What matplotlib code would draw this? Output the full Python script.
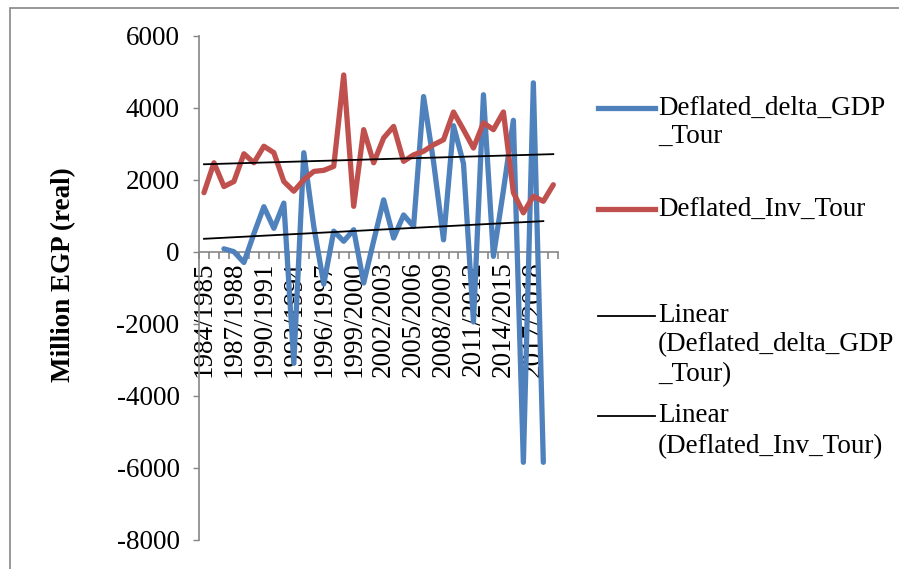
import numpy as np
import matplotlib
matplotlib.use('Agg')
import matplotlib.pyplot as plt
from matplotlib.lines import Line2D
from matplotlib.patches import Rectangle

plt.rcParams['font.family'] = ['Liberation Serif', 'DejaVu Serif']
plt.rcParams['axes.unicode_minus'] = False

nan = np.nan
# real values, million EGP, one per fiscal year 1984/1985 .. 2019/2020
delta_gdp = [nan, nan, 80, 0, -300, 500, 1250, 650, 1350, -3100,
             2750, 700, -900, 570, 290, 610, -870, 300, 1440, 380,
             1020, 700, 4310, 2500, 330, 3500, 2450, -1950, 4360, -130,
             1700, 3650, -5850, 4690, -5850, nan]
inv_tour = [1640, 2470, 1810, 1950, 2720, 2470, 2930, 2750, 1950, 1680,
            2000, 2230, 2260, 2370, 4910, 1260, 3390, 2470, 3160, 3480,
            2510, 2690, 2790, 2970, 3110, 3880, 3390, 2880, 3580, 3390,
            3880, 1640, 1080, 1540, 1400, 1860]
year_labels = ['1984/1985', '1987/1988', '1990/1991', '1993/1994',
               '1996/1997', '1999/2000', '2002/2003', '2005/2006',
               '2008/2009', '2011/2012', '2014/2015', '2017/2018']

blue = '#4F81BD'
red = '#C0504D'
grey = '#868686'
fs = 19.5

x = np.arange(len(inv_tour))
gdp = np.array(delta_gdp, dtype=float)
inv = np.array(inv_tour, dtype=float)

fig = plt.figure(figsize=(8.99, 5.69), dpi=100)
ax = fig.add_axes([199 / 899, 1 - 539.7 / 569, 359.3 / 899, 504 / 569])

ax.plot(x, gdp, color=blue, lw=3.8, solid_joinstyle='round',
        solid_capstyle='round', zorder=3)
ax.plot(x, inv, color=red, lw=3.8, solid_joinstyle='round',
        solid_capstyle='round', zorder=3)

# linear trends (leading empty years count as zero in the fit)
last = np.where(~np.isnan(gdp))[0][-1]
xg = x[:last + 1]
k1, b1 = np.polyfit(xg, np.nan_to_num(gdp[:last + 1]), 1)
xt1 = np.array([0, last])
ax.plot(xt1, k1 * xt1 + b1, color='black', lw=1.3, zorder=4)
k2, b2 = np.polyfit(x, inv, 1)
xt2 = np.array([0, x[-1]])
ax.plot(xt2, k2 * xt2 + b2, color='black', lw=1.3, zorder=4)

ax.set_xlim(-0.5, len(inv_tour) - 0.5)
ax.set_ylim(-8000, 6000)
ax.set_yticks(np.arange(-8000, 6001, 2000))
ax.tick_params(axis='y', labelsize=fs, length=4, width=1, color=grey,
               direction='out', pad=10)

for s in ['top', 'right']:
    ax.spines[s].set_visible(False)
ax.spines['left'].set_color(grey)
ax.spines['bottom'].set_color(grey)
ax.spines['bottom'].set_position(('data', 0))
ax.spines['left'].set_linewidth(1.2)
ax.spines['bottom'].set_linewidth(1.2)

ax.set_xticks(np.arange(-0.5, len(inv_tour), 1.0))
ax.set_xticklabels([])
ax.tick_params(axis='x', which='major', length=5, width=1.2, color=grey,
               direction='out')
ax.set_xticks(np.arange(0, len(inv_tour), 3), minor=True)
ax.set_xticklabels(year_labels, minor=True, rotation=90, fontsize=fs)
ax.tick_params(axis='x', which='minor', length=0, pad=7)
ax.patch.set_alpha(0)

fig.text(64 / 899, 1 - 275 / 569, 'Million EGP (real)', rotation=90,
         fontsize=fs, fontweight='bold', ha='center', va='center')

# legend drawn by hand
def legend_row(y_px, color, lw, lines):
    y0 = 1 - y_px / 569
    fig.add_artist(Line2D([598 / 899, 655 / 899], [y0, y0], color=color,
                          lw=lw, transform=fig.transFigure))
    for txt, yy in lines:
        fig.text(658 / 899, 1 - yy / 569, txt, fontsize=fs,
                 ha='left', va='center')

legend_row(108, blue, 3.8, [('Deflated_delta_GDP', 108), ('_Tour', 136)])
legend_row(209, red, 3.8, [('Deflated_Inv_Tour', 209)])
legend_row(316, 'black', 1.3, [('Linear', 316), ('(Deflated_delta_GDP', 345),
                               ('_Tour)', 375)])
legend_row(416, 'black', 1.3, [('Linear', 416), ('(Deflated_Inv_Tour)', 447)])

fig.add_artist(Rectangle((10 / 899, -0.05), 1.0, 1 - 8 / 569 + 0.05,
                         transform=fig.transFigure, fill=False,
                         edgecolor=grey, lw=1.2))

fig.savefig('out.png', dpi=100)
